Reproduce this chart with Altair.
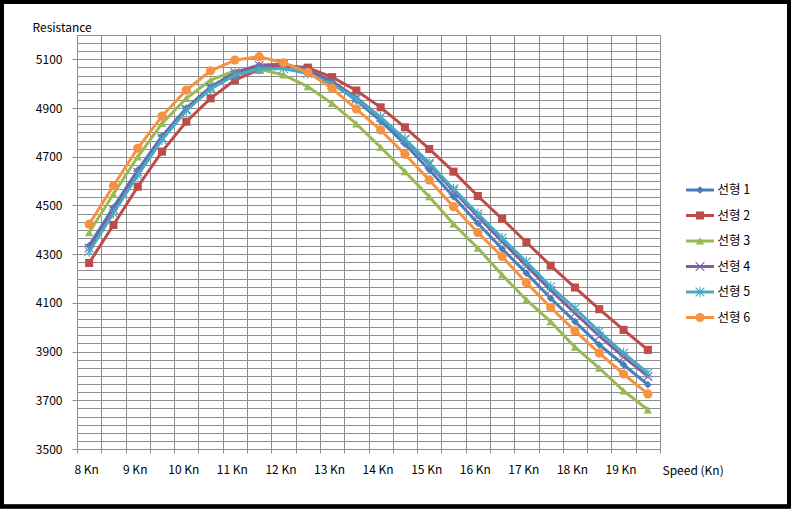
import altair as alt
import pandas as pd

# ---------------- data ----------------
speeds = [8, 8.5, 9, 9.5, 10, 10.5, 11, 11.5, 12, 12.5, 13, 13.5,
          14, 14.5, 15, 15.5, 16, 16.5, 17, 17.5, 18, 18.5, 19, 19.5]
series_names = ["선형 1", "선형 2", "선형 3", "선형 4", "선형 5", "선형 6"]

s1 = [4335, 4492, 4645, 4785, 4900, 4987, 5045, 5075, 5078, 5052, 5002, 4932,
      4847, 4752, 4647, 4536, 4427, 4322, 4222, 4119, 4023, 3928, 3846, 3764]
s2 = [4264, 4420, 4577, 4721, 4844, 4940, 5015, 5058, 5075, 5066, 5027, 4972,
      4903, 4821, 4732, 4639, 4539, 4445, 4349, 4253, 4163, 4074, 3989, 3907]
s3 = [4389, 4547, 4700, 4837, 4940, 5015, 5053, 5060, 5036, 4988, 4919, 4835,
      4739, 4639, 4536, 4424, 4325, 4215, 4112, 4023, 3918, 3832, 3739, 3661]
s4 = [4325, 4483, 4637, 4778, 4895, 4985, 5045, 5076, 5080, 5058, 5010, 4943,
      4862, 4770, 4668, 4560, 4455, 4352, 4252, 4152, 4058, 3964, 3878, 3798]
s5 = [4311, 4468, 4625, 4770, 4890, 4978, 5035, 5060, 5062, 5042, 4998, 4937,
      4862, 4773, 4675, 4568, 4466, 4366, 4268, 4167, 4078, 3982, 3894, 3812]
s6 = [4423, 4581, 4735, 4867, 4974, 5053, 5097, 5111, 5086, 5047, 4981, 4896,
      4810, 4710, 4605, 4495, 4389, 4290, 4183, 4081, 3985, 3894, 3808, 3726]
values = [s1, s2, s3, s4, s5, s6]

# ---------------- styles ----------------
colors = ["#4A7EBB", "#BE4B48", "#98B954", "#7D60A0", "#46AAC5", "#F69240"]
shapes = ["diamond", "square", "triangle-up",
          "M-1,-1L1,1M-1,1L1,-1",
          "M-1,-1L1,1M-1,1L1,-1M0,-1.2L0,1.2",
          "circle"]
marker_sizes = [60, 85, 95, 64, 80, 105]
filled_flags = [True, True, True, False, False, True]

rows = []
for name, vals in zip(series_names, values):
    for sp, v in zip(speeds, vals):
        rows.append({"speed": sp, "series": name, "value": v})
df = pd.DataFrame(rows)
legend_df = pd.DataFrame({"series": series_names})

FONT = "Noto Sans CJK KR"
W, H = 583, 414
GRID = "#8e8e8e"
LW = 3

color_enc = alt.Color("series:N", scale=alt.Scale(domain=series_names, range=colors), legend=None)
shape_enc = alt.Shape("series:N", scale=alt.Scale(domain=series_names, range=shapes), legend=None)
size_enc = alt.Size("series:N", scale=alt.Scale(domain=series_names, range=marker_sizes), legend=None)

y_grid = [3500 + k * 100 / 3 for k in range(52)]
major_test = "abs((datum.value - 3500) / 200 - round((datum.value - 3500) / 200)) < 0.001"

x_enc = alt.X(
    "speed:O",
    scale=alt.Scale(type="band", paddingInner=0, paddingOuter=0),
    bandPosition=0.5,
    axis=alt.Axis(
        title="Speed (Kn)",
        tickBand="extent",
        grid=True,
        labelExpr="datum.value % 1 == 0 ? datum.value + ' Kn' : ''",
        labelAngle=0,
        labelOffset=-3,
        labelPadding=11,
        labelOverlap=False,
        tickSize=4,
        titleX=585,
        titleY=21,
        titleAlign="left",
        titleBaseline="middle",
    ),
)
y_enc = alt.Y(
    "value:Q",
    scale=alt.Scale(domain=[3500, 5200], nice=False, zero=False),
    axis=alt.Axis(
        title="Resistance",
        values=y_grid,
        labelExpr=f"{major_test} ? format(datum.value, 'd') : ''",
        tickOpacity={"condition": {"test": major_test, "value": 1}, "value": 0},
        tickSize=5,
        labelPadding=10,
        labelOverlap=False,
        grid=True,
        titleAngle=0,
        titleX=-45,
        titleY=-8,
        titleAlign="left",
        titleBaseline="middle",
    ),
)

base = alt.Chart(df)
layers = []
for name, filled in zip(series_names, filled_flags):
    sub = base.transform_filter(alt.datum.series == name)
    layers.append(sub.mark_line(strokeWidth=LW).encode(x=x_enc, y=y_enc, color=color_enc))
    if filled:
        pm = sub.mark_point(filled=True, opacity=1)
    else:
        pm = sub.mark_point(filled=False, opacity=1, strokeWidth=1.1)
    layers.append(pm.encode(x=x_enc, y=y_enc, color=color_enc, shape=shape_enc, size=size_enc))
main = alt.layer(*layers)

# ---------------- legend (drawn from the series list) ----------------
leg_y = alt.Y("series:N", scale=alt.Scale(type="point", domain=series_names, range=[155, 282.5], padding=0), axis=None)
lbase = alt.Chart(legend_df)
leg_rule = lbase.mark_rule(strokeWidth=LW).encode(
    x=alt.value(609), x2=alt.value(637), y=leg_y, color=color_enc)
leg_pf = lbase.transform_filter(
    alt.FieldOneOfPredicate(field="series", oneOf=[n for n, f in zip(series_names, filled_flags) if f])
).mark_point(filled=True, opacity=1).encode(
    x=alt.value(623), y=leg_y, color=color_enc, shape=shape_enc, size=size_enc)
leg_ps = lbase.transform_filter(
    alt.FieldOneOfPredicate(field="series", oneOf=[n for n, f in zip(series_names, filled_flags) if not f])
).mark_point(filled=False, opacity=1, strokeWidth=1.1).encode(
    x=alt.value(623), y=leg_y, color=color_enc, shape=shape_enc, size=size_enc)
leg_text = lbase.mark_text(align="left", baseline="middle", font=FONT, fontSize=12.5, color="black").encode(
    x=alt.value(640.5), y=leg_y, text="series:N")
frame = lbase.mark_rect(filled=False, color="black", strokeWidth=3.5).encode(
    x=alt.value(-75), x2=alt.value(712), y=alt.value(-33), y2=alt.value(471.5))
legend = alt.layer(leg_rule, leg_pf, leg_ps, leg_text, frame)

chart = alt.layer(main, legend).resolve_scale(y="independent").properties(
    width=W, height=H,
    autosize=alt.AutoSizeParams(type="none"),
    padding={"left": 77, "top": 35, "right": 131, "bottom": 60},
    background="white",
).configure_view(
    stroke=GRID, strokeWidth=1
).configure_axis(
    gridColor=GRID, gridWidth=1, gridOpacity=1,
    domainColor=GRID, tickColor=GRID,
    labelFont=FONT, labelFontSize=12, labelColor="black",
    titleFont=FONT, titleFontSize=12, titleFontWeight="normal", titleColor="black",
)

chart.save("out.html", embed_options={"renderer": "svg", "actions": False})
